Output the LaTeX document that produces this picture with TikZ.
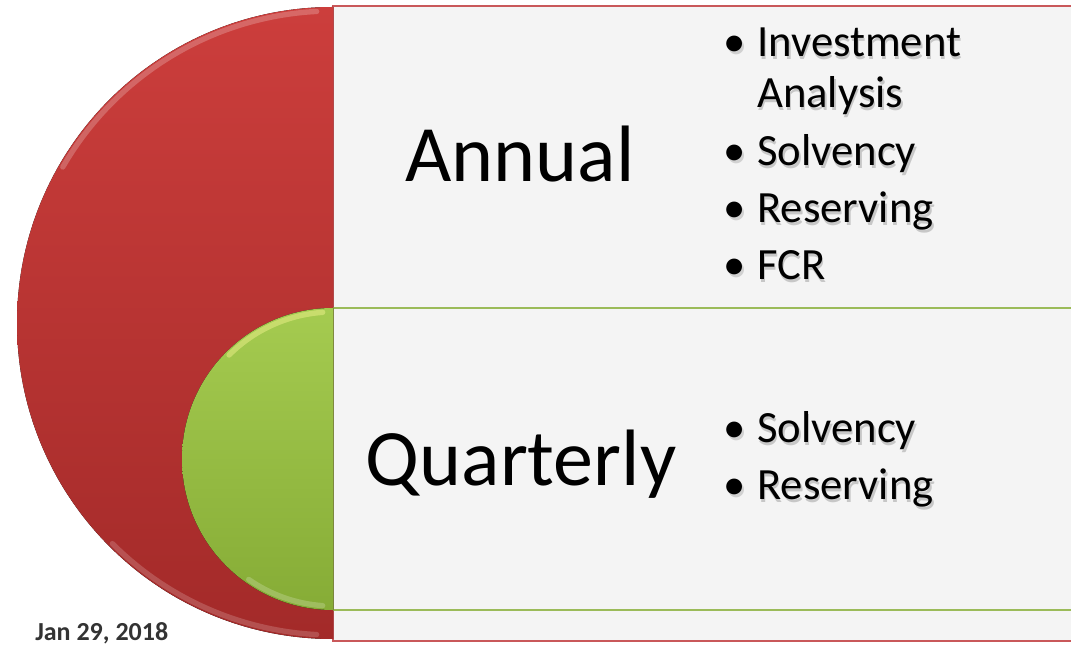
\documentclass[tikz,border=0pt]{standalone}
\usepackage{fontspec}
\setmainfont{Carlito}
\usetikzlibrary{positioning}
\definecolor{redtop}{HTML}{CC3E3C}
\definecolor{redbot}{HTML}{A32A29}
\definecolor{redline}{HTML}{C9585A}
\definecolor{greentop}{HTML}{A5CB50}
\definecolor{greenbot}{HTML}{86AC36}
\definecolor{greenline}{HTML}{9BBB59}
\definecolor{panel}{HTML}{F4F4F4}

\begin{document}
\begin{tikzpicture}[x=0.75pt, y=0.75pt,
    panelbox/.style={fill=panel, line width=1.5pt},
    period/.style={font=\fontsize{60}{72}\selectfont, anchor=base, inner sep=0pt},
    itm/.style={font=\fontsize{33.5}{40}\selectfont, anchor=base west, inner sep=0pt},
    itmshadow/.style={itm, text=black, opacity=0.18},
    bul/.style={font=\fontsize{33.5}{40}\selectfont, anchor=base, inner sep=0pt},
    bevel/.style={white, line width=4pt, line cap=round}
]
  \useasboundingbox (0,0) rectangle (1071,646);
  \clip (0,0) rectangle (1071,646);

  % panels behind the discs
  \draw[panelbox, draw=redline] (333,5) rectangle (1090,640);
  \draw[panelbox, draw=greenline] (333,36) rectangle (1090,338);

  % big red half disc
  \coordinate (rc) at (333,323);
  \fill[top color=redtop, bottom color=redbot]
    (333,639) arc[start angle=90, end angle=270, radius=316] -- cycle;
  \draw[bevel, opacity=0.22] ([shift={(93:312)}]rc) arc[start angle=93, end angle=150, radius=312];
  \draw[bevel, opacity=0.18] ([shift={(225:312)}]rc) arc[start angle=225, end angle=267, radius=312];

  % small green half disc
  \coordinate (gc) at (333,187);
  \fill[top color=greentop, bottom color=greenbot]
    (333,338) arc[start angle=90, end angle=270, radius=151] -- cycle;
  \draw[bevel, opacity=0.4, draw=yellow!40!white] ([shift={(94:147)}]gc) arc[start angle=94, end angle=135, radius=147];
  \draw[bevel, opacity=0.2] ([shift={(235:147)}]gc) arc[start angle=235, end angle=266, radius=147];

  % headings
  \node[period] (annual) at (520,464) {Annual};
  \node[period] (quarterly) at (521,160) {Quarterly};

  % bullet lists
  \foreach \nm/\yy/\txt in {inv/589/Investment, ana/538/Analysis, solva/480/Solvency,
      resa/423/Reserving, fcr/366/FCR, solvq/203/Solvency, resq/146/Reserving} {
    \node[itmshadow] (\nm-sh) at (758.5,\yy-2.5) {\txt};
    \node[itm] (\nm) at (757,\yy) {\txt};
  }
  \foreach \yy in {589,480,423,366,203,146} {
    \node[bul] (b\yy-sh) at (736.5,\yy-2.5) {\color{black!18}\textbullet};
    \node[bul] (b\yy) at (735,\yy) {\textbullet};
  }

  \node[font=\bfseries\fontsize{19.5}{23}\selectfont, text=black!80, anchor=base west, inner sep=0pt]
    (date) at (35,5) {Jan 29, 2018};
\end{tikzpicture}
\end{document}
